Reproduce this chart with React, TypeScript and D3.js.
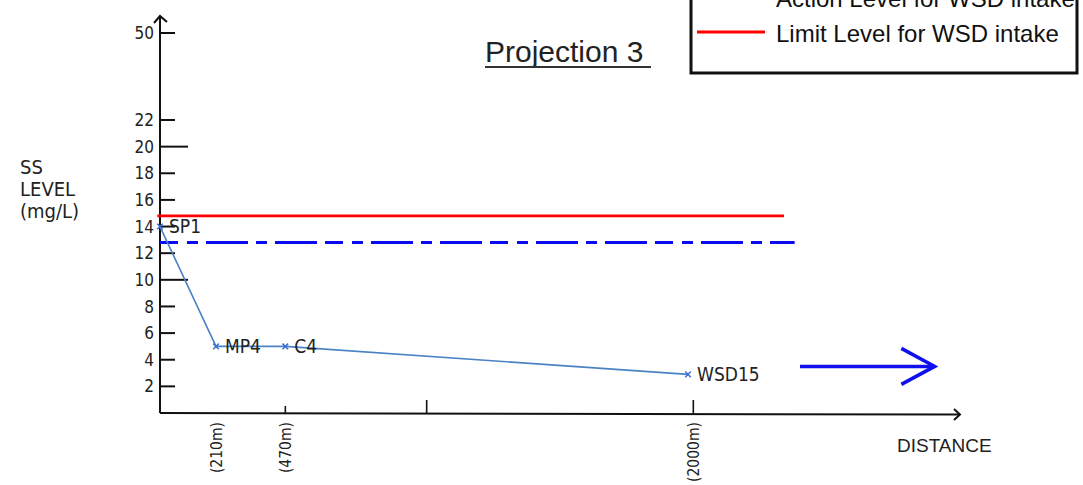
import React from "react";
import * as d3 from "d3";

// ---- data ----
const stationNames = ["SP1", "MP4", "C4", "WSD15"];
const stationDistances = [0, 210, 470, 1980]; // metres
const ssLevels = [14, 5, 5, 2.9]; // mg/L
const yTickValues = [2, 4, 6, 8, 10, 12, 14, 16, 18, 20, 22, 50];
const yLongTicks = [10, 20];
const xTickMarks = [470, 1000, 2000];
const xShortTicks = [470];
const xTickLabels = [210, 470, 2000];
const limitLevel = 14.8;
const actionLevel = 12.8;
const limitExtent = [-10, 2340];
const actionExtent = [0, 2380];
const legendItems = ["Action Level for WSD intake", "Limit Level for WSD intake"];

const W = 1083;
const H = 485;

export default function App() {
  const x = d3.scaleLinear().domain([0, 3000]).range([160, 960]);
  const y = d3.scaleLinear().domain([0, 22, 50]).range([413, 120, 33]);

  const pts = stationDistances.map((d, i) => ({ d, v: ssLevels[i], name: stationNames[i] }));
  const line = d3
    .line<{ d: number; v: number }>()
    .x((p) => x(p.d))
    .y((p) => y(p.v));
  const marker = d3.symbol(d3.symbolX, 22)() as string;

  const axisFont = "'Liberation Sans', Arial, sans-serif";
  const narrowFont = "'Liberation Sans Narrow', 'DejaVu Sans Condensed', Arial, sans-serif";
  const x0 = x(0);
  const y0 = y(0);

  return (
    <svg
      width={W}
      height={H}
      style={{ position: "absolute", left: 0, top: 0, background: "#fff" }}
      fontFamily={axisFont}
    >
      {/* title */}
      <text x={485} y={62} fontSize={30} fill="#222">
        Projection 3
      </text>
      <line x1={485} x2={651} y1={67} y2={67} stroke="#333" strokeWidth={2.2} />

      {/* legend */}
      <rect x={691} y={-10} width={386} height={83} fill="#fff" stroke="#111" strokeWidth={3} />
      <line x1={697} x2={765} y1={-3} y2={-3} stroke="#0000ee" strokeWidth={3} strokeDasharray="20 6 6 6" />
      <text x={776} y={7} fontSize={24} fill="#111">
        {legendItems[0]}
      </text>
      <line x1={697} x2={765} y1={32} y2={32} stroke="#ff0000" strokeWidth={3} />
      <text x={776} y={42} fontSize={24} fill="#111">
        {legendItems[1]}
      </text>

      {/* y axis */}
      <line x1={x0} x2={x0} y1={y0} y2={16} stroke="#111" strokeWidth={2} />
      <polyline
        points={`${x0 - 6},${23} ${x0},${16} ${x0 + 7},${22}`}
        fill="none"
        stroke="#111"
        strokeWidth={2}
      />
      {yTickValues.map((t) => (
        <g key={t}>
          <line
            x1={x0}
            x2={x0 + (yLongTicks.includes(t) ? 28 : 15)}
            y1={y(t)}
            y2={y(t)}
            stroke="#111"
            strokeWidth={2}
          />
          <text
            x={x0 - 6}
            y={y(t)}
            dy="0.36em"
            textAnchor="end"
            fontSize={17}
            fontFamily={narrowFont}
            fill="#222"
          >
            {t}
          </text>
        </g>
      ))}
      <text fontSize={20} fontFamily={narrowFont} fill="#222">
        <tspan x={20} y={174}>SS</tspan>
        <tspan x={20} y={196}>LEVEL</tspan>
        <tspan x={20} y={218}>(mg/L)</tspan>
      </text>

      {/* x axis */}
      <line x1={x0} x2={x(3000)} y1={y0} y2={y0 + 1.5} stroke="#111" strokeWidth={2} />
      <polyline
        points={`${x(3000) - 6},${y0 - 4} ${x(3000)},${y0 + 1.5} ${x(3000) - 6},${y0 + 7}`}
        fill="none"
        stroke="#111"
        strokeWidth={2}
      />
      {xTickMarks.map((t) => (
        <line
          key={t}
          x1={x(t)}
          x2={x(t)}
          y1={y0 + 1}
          y2={y0 - (xShortTicks.includes(t) ? 7 : 13)}
          stroke="#111"
          strokeWidth={1.6}
        />
      ))}
      {xTickLabels.map((t) => (
        <text
          key={t}
          transform={`translate(${x(t)},${y0 + 9}) rotate(-90)`}
          dy="0.36em"
          textAnchor="end"
          fontSize={15.5}
          fontFamily={narrowFont}
          fill="#222"
        >
          {`(${t}m)`}
        </text>
      ))}
      <text x={897} y={452} fontSize={19} fill="#222">
        DISTANCE
      </text>

      {/* level lines */}
      <line
        x1={x(limitExtent[0])}
        x2={x(limitExtent[1])}
        y1={y(limitLevel)}
        y2={y(limitLevel)}
        stroke="#ff0000"
        strokeWidth={2.6}
      />
      <line
        x1={x(actionExtent[0])}
        x2={x(actionExtent[1])}
        y1={y(actionLevel)}
        y2={y(actionLevel)}
        stroke="#0a0aee"
        strokeWidth={3}
        strokeDasharray="18 9 11 8 42 8 11 8 42 8"
      />

      {/* data line */}
      <path d={line(pts) || ""} fill="none" stroke="#4a82c4" strokeWidth={1.6} />
      {pts.map((p) => (
        <g key={p.name}>
          <path
            d={marker}
            transform={`translate(${x(p.d)},${y(p.v)})`}
            fill="none"
            stroke="#3a6fd0"
            strokeWidth={1.5}
          />
          <text
            x={x(p.d) + 9}
            y={y(p.v)}
            dy="0.36em"
            fontSize={19}
            fontFamily={narrowFont}
            fill="#222"
          >
            {p.name}
          </text>
        </g>
      ))}

      {/* direction arrow */}
      <line x1={x(2400)} x2={x(2905)} y1={y(3.5)} y2={y(3.5)} stroke="#1010ee" strokeWidth={3.5} />
      <polyline
        points={`${x(2780)},${y(3.5) - 18} ${x(2905)},${y(3.5)} ${x(2780)},${y(3.5) + 18}`}
        fill="none"
        stroke="#1010ee"
        strokeWidth={3.5}
      />
    </svg>
  );
}
